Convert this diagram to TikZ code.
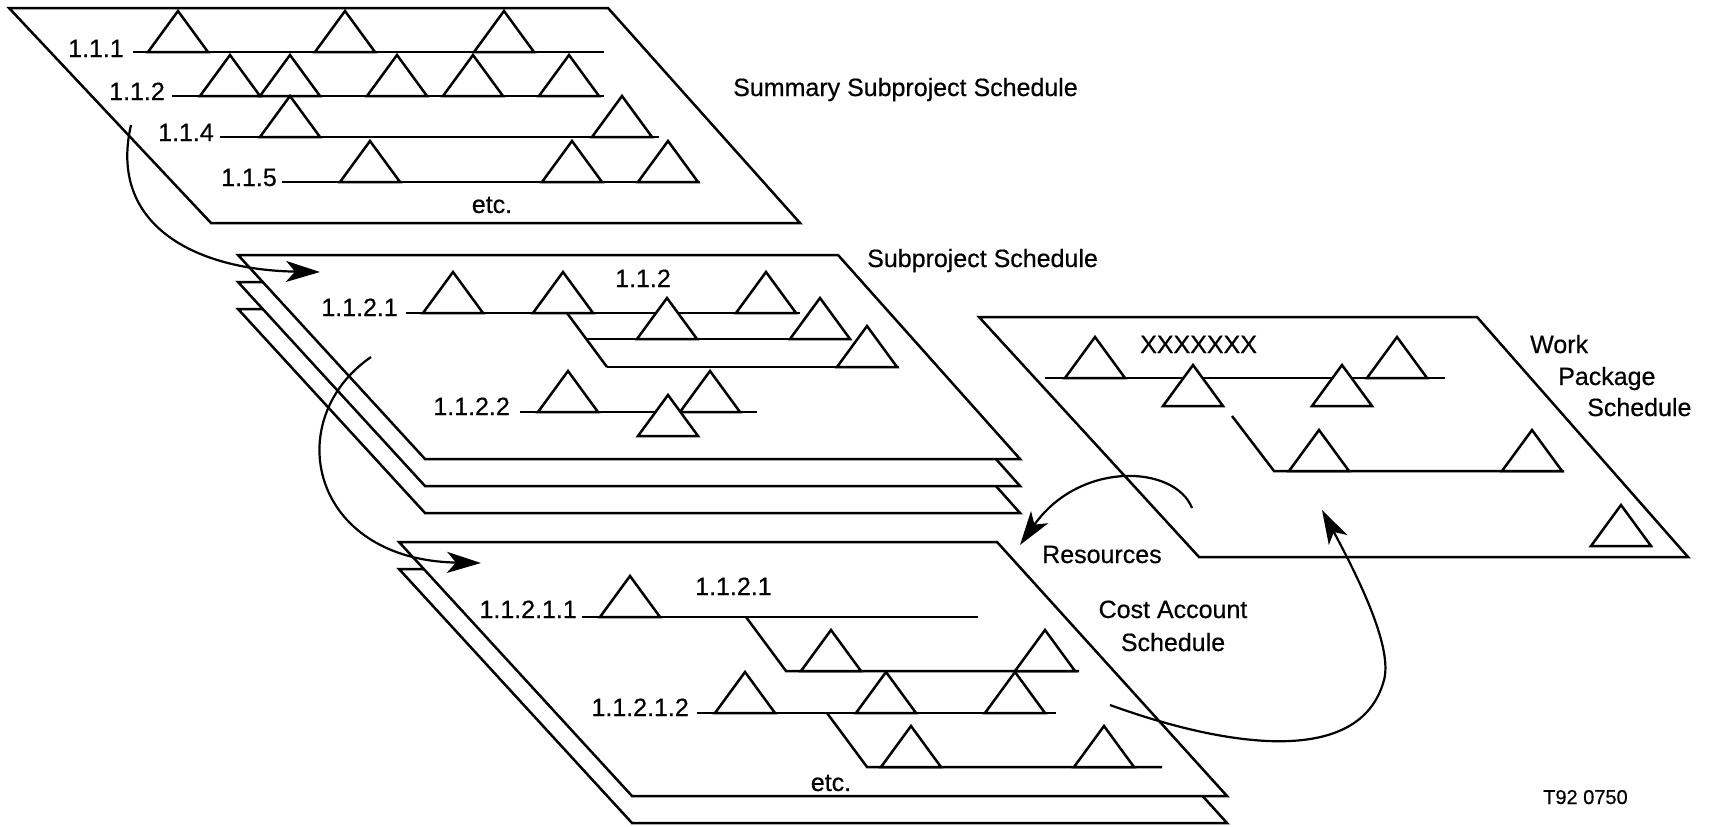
\documentclass[tikz,border=0pt]{standalone}
\usepackage{fontspec}
\setmainfont{Liberation Sans}[FakeBold=0.5]
\usetikzlibrary{arrows.meta}
\begin{document}
\begin{tikzpicture}[x=1pt,y=-1pt,
  plane/.style={draw=black, fill=white, line width=2.5pt, line join=miter},
  track/.style={draw=black, line width=2.5pt},
  ms/.pic={\draw[line width=2.5pt, fill=white, line join=miter]
           (-30,0) -- (0,-41) -- (30,0) -- cycle;},
  lbl/.style={inner sep=0pt, font=\fontsize{25}{30}\selectfont},
  flow/.style={draw=black, line width=2.2pt,
               -{Stealth[length=34pt,width=21pt,inset=9pt]}},
]
\useasboundingbox (0,0) rectangle (1711,827);
\fill[white] (0,0) rectangle (1711,827);

% ---------------- Summary subproject schedule ----------------
\path[plane] (9,8) -- (608,8) -- (800,223) -- (211,223) -- cycle;
\draw[track] (133,52) -- (604,52);
\draw[track] (172,96) -- (604,96);
\draw[track] (220,137) -- (659,137);
\draw[track] (282,182) -- (700,182);
\foreach \x in {178,345,504} \pic at (\x,52) {ms};
\foreach \x in {230,290,397,473,569} \pic at (\x,96) {ms};
\foreach \x in {290,622} \pic at (\x,137) {ms};
\foreach \x in {370,572,668} \pic at (\x,182) {ms};
\node[lbl, anchor=base east] (s111) at (124,57) {1.1.1};
\node[lbl, anchor=base east] (s112) at (165,100) {1.1.2};
\node[lbl, anchor=base east] (s114) at (214,141) {1.1.4};
\node[lbl, anchor=base east] (s115) at (277,186) {1.1.5};
\node[lbl] (setc) at (492,205) {etc.};
\node[lbl, anchor=base west] (summary) at (733,96) {Summary Subproject Schedule};

% ---------------- Subproject schedule (stack of three sheets) ----------------
\foreach \d in {54,27,0}
  \path[plane] (238,255+\d) -- (838,255+\d) -- (1020,459+\d) -- (425,459+\d) -- cycle;
\draw[track] (406,313) -- (800,313);
\draw[track] (567,313) -- (607,367);
\draw[track] (586,339) -- (851,339);
\draw[track] (607,367) -- (899,367);
\draw[track] (520,412) -- (757,412);
\foreach \x in {453,563,766} \pic at (\x,313) {ms};
\foreach \x in {667,820} \pic at (\x,339) {ms};
\pic at (867,367) {ms};
\foreach \x in {568,710} \pic at (\x,412) {ms};
\pic at (668,436) {ms};
\node[lbl, anchor=base east] (p1121) at (398,316) {1.1.2.1};
\node[lbl, anchor=base west] (p112) at (615,287) {1.1.2};
\node[lbl, anchor=base east] (p1122) at (510,415) {1.1.2.2};
\node[lbl, anchor=base west] (subproj) at (867,267) {Subproject Schedule};

% ---------------- Cost account schedule (two sheets) ----------------
\foreach \d in {27,0}
  \path[plane] (399,542+\d) -- (997,542+\d) -- (1227,796+\d) -- (632,796+\d) -- cycle;
\draw[track] (582,617) -- (978,617);
\draw[track] (746,617) -- (786,671) -- (1079,671);
\draw[track] (697,713) -- (1056,713);
\draw[track] (827,713) -- (867,767) -- (1162,767);
\pic at (630,617) {ms};
\foreach \x in {831,1045} \pic at (\x,671) {ms};
\foreach \x in {745,886,1015} \pic at (\x,713) {ms};
\foreach \x in {911,1104} \pic at (\x,767) {ms};
\node[lbl, anchor=base east] (c11211) at (577,618) {1.1.2.1.1};
\node[lbl, anchor=base west] (c1121) at (695,595) {1.1.2.1};
\node[lbl, anchor=base east] (c11212) at (689,716) {1.1.2.1.2};
\node[lbl] (cetc) at (831,783) {etc.};
\node[lbl, anchor=base] (cost1) at (1173,618) {Cost Account};
\node[lbl, anchor=base] (cost2) at (1173,651) {Schedule};
\node[lbl, anchor=base west] (res) at (1042,563) {Resources};

% ---------------- Work package schedule ----------------
\path[plane] (979,317) -- (1477,317) -- (1688,557) -- (1199,557) -- cycle;
\draw[track] (1045,378) -- (1445,378);
\draw[track] (1232,416) -- (1274,471) -- (1564,471);
\foreach \x in {1095,1397} \pic at (\x,378) {ms};
\foreach \x in {1193,1342} \pic at (\x,406) {ms};
\foreach \x in {1319,1532} \pic at (\x,471) {ms};
\pic at (1621,546) {ms};
\node[lbl, anchor=base west] (wpx) at (1140,353) {XXXXXXX};
\node[lbl, anchor=base west] (wp1) at (1530,353) {Work};
\node[lbl, anchor=base west] (wp2) at (1558,385) {Package};
\node[lbl, anchor=base west] (wp3) at (1587,416) {Schedule};

\node[inner sep=0pt, anchor=base west, font=\fontsize{20}{24}\selectfont] (tag) at (1543,804) {T92 0750};

% ---------------- flow arrows ----------------
\coordinate (a1s) at (131,125);  \coordinate (a1e) at (320,272);
\coordinate (a2s) at (371,357);  \coordinate (a2e) at (481,563);
\coordinate (a3s) at (1192,508); \coordinate (a3e) at (1020,545);
\coordinate (a4s) at (1110,705); \coordinate (a4m) at (1384,680); \coordinate (a4e) at (1322,510);
\draw[flow] (a1s) .. controls (108,225) and (195,270) .. (a1e);
\draw[flow] (a2s) .. controls (280,420) and (310,560) .. (a2e);
\draw[flow] (a3s) .. controls (1175,465) and (1080,460) .. (a3e);
\draw[flow] (a4s) .. controls (1220,745) and (1360,770) .. (a4m)
                  .. controls (1392,650) and (1365,590) .. (a4e);
\end{tikzpicture}
\end{document}
